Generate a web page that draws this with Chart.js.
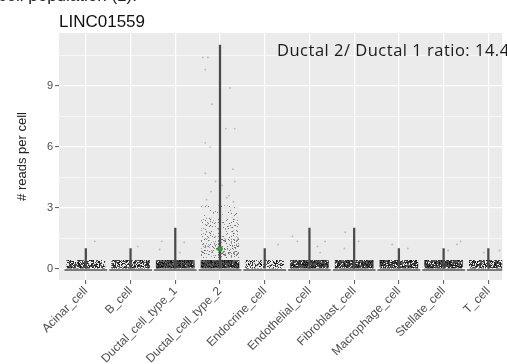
<!DOCTYPE html>
<html>
<head>
<meta charset="utf-8">
<script src="https://cdn.jsdelivr.net/npm/chart.js@4"></script>
<style>
  html, body { margin:0; padding:0; background:#fff; overflow:hidden; }
  #wrap { position:relative; width:507px; height:364px; }
  #chart { position:absolute; left:0; top:0; }
  .txt { position:absolute; white-space:nowrap; line-height:1; }
  #para { left:-2px; top:-14px; font:17px "Liberation Sans", Arial, sans-serif; color:#222; }
  #gene { left:59px; top:12px; font:17px "Liberation Sans", Arial, sans-serif; color:#111; }
  #ratio { left:277px; top:38px; font:16.5px "Open Sans", sans-serif; letter-spacing:0.5px; color:#1a1a1a; }
</style>
</head>
<body>
<div id="wrap">
  <canvas id="chart" width="507" height="364"></canvas>
  <div class="txt" id="para">cell population (1).</div>
  <div class="txt" id="gene">LINC01559</div>
  <div class="txt" id="ratio">Ductal 2/ Ductal 1 ratio: 14.4</div>
</div>
<script>
// data
const categories = ["Acinar_cell", "B_cell", "Ductal_cell_type_1", "Ductal_cell_type_2", "Endocrine_cell",
    "Endothelial_cell", "Fibroblast_cell", "Macrophage_cell", "Stellate_cell", "T_cell"];
const maxReads = [1, 1, 2, 11, 1, 2, 2, 1, 1, 1];
const bulkTop = [0.42, 0.42, 0.42, 0.42, 0.42, 0.42, 0.42, 0.42, 0.42, 0.42];
const ductal2Mean = 0.98;
const ductal2Low = [0.55, 1.5, 2.5];
const ductal2High = [1.45, 2.5, 3.1];
const yTicks = [0, 3, 6, 9];

// stray points (category index, jitter offset, reads)
const strayCat    = [0, 1, 2, 2, 2, 2, 4, 5, 5, 5, 5, 5, 6, 6, 6, 7, 7, 8, 8, 8, 9, 9,
                     3, 3, 3, 3, 3, 3, 3, 3, 3, 3, 3, 3, 3, 3, 3, 3, 3, 3, 3, 3];
const strayOffset = [0.2, 0.16, -0.3, -0.35, 0.2, 0.1, 0.3, -0.38, -0.27, 0.35, 0.18, 0.24, -0.2, 0.1, -0.22, -0.15, 0.2, 0.1, 0.3, 0.38, -0.1, 0.25,
                     -0.38, -0.27, -0.33, 0.22, -0.18, 0.13, 0.33, -0.33, -0.22, 0.29, 0.33, -0.33, -0.1, 0.05, -0.2, 0.2, -0.3, 0.3, 0.0, 0.15];
const strayReads  = [1.35, 1.1, 1.35, 0.95, 1.3, 0.8, 1.2, 1.6, 1.35, 1.35, 1.1, 0.8, 1.8, 1.35, 1.0, 1.2, 1.0, 0.9, 1.2, 1.35, 0.8, 0.9,
                     10.4, 10.4, 9.8, 8.9, 8.1, 6.9, 6.9, 6.2, 6.0, 4.9, 4.3, 4.7, 4.3, 4.1, 3.8, 3.6, 3.4, 3.3, 3.2, 3.5];

// deterministic speckle texture for the dense point clouds
function speckle(density, lo, hi) {
    let c = document.createElement("canvas");
    c.width = 40; c.height = 14;
    let g = c.getContext("2d");
    let s = 7 + Math.round(density * 1000);
    function next() { s = (s * 1103515245 + 12345) % 2147483648; return s / 2147483648; }
    g.fillStyle = "#EBEBEB";
    g.fillRect(0, 0, 40, 14);
    for (let y = 0; y < 14; y++) {
        for (let x = 0; x < 40; x++) {
            if (next() < density) {
                let v = Math.round(lo + (hi - lo) * next());
                g.fillStyle = "rgb(" + v + "," + v + "," + v + ")";
                g.fillRect(x, y, 1, 1);
            }
        }
    }
    let ctx = document.getElementById("chart").getContext("2d");
    return ctx.createPattern(c, "repeat");
}

const bulkDensity = [0.62, 0.66, 0.98, 0.98, 0.35, 0.93, 0.88, 0.8, 0.86, 0.7];
const tierDensity = [0.25, 0.1, 0.04];

let idx = categories.map((c, i) => i);

let baseData = idx.map(i => ({x: i, y: [-0.09, 0]}));
let bulkData = idx.map(i => ({x: i, y: [0, bulkTop[i]]}));
let rangeData = idx.map(i => ({x: i, y: [0, maxReads[i]]}));
let strayData = strayCat.map((c, k) => ({x: c + strayOffset[k], y: strayReads[k]}));

let tierSets = ductal2Low.map((lo, k) => ({
    type: "bar",
    data: [{x: 3, y: [lo, ductal2High[k]]}],
    backgroundColor: speckle(tierDensity[k], 90, 170),
    barThickness: 37,
    grouped: false,
    order: 4
}));

const bgPlugin = {
    id: "panel",
    beforeDraw(chart) {
        let a = chart.chartArea, ctx = chart.ctx;
        ctx.save();
        ctx.fillStyle = "#EBEBEB";
        ctx.fillRect(a.left, a.top, a.right - a.left, a.bottom - a.top);
        ctx.restore();
    }
};

new Chart("chart", {
    type: "bar",
    data: {
        datasets: [
            {
                type: "scatter",
                data: [{x: 3, y: ductal2Mean}],
                pointRadius: 2.4,
                backgroundColor: "#3a9a3a",
                borderColor: "#1f6b1f",
                borderWidth: 0.8,
                order: 0
            },
            {
                type: "bar",
                data: rangeData,
                backgroundColor: "#4a4a4a",
                barThickness: 1.6,
                grouped: false,
                order: 1
            },
            {
                type: "scatter",
                data: strayData,
                pointRadius: 0.9,
                backgroundColor: "rgba(60,60,60,0.3)",
                borderWidth: 0,
                order: 2
            },
            {
                type: "bar",
                data: bulkData,
                backgroundColor: bulkDensity.map(d => speckle(d, 10, 110)),
                barThickness: 38,
                grouped: false,
                order: 3
            },
            ...tierSets,
            {
                type: "bar",
                data: baseData,
                backgroundColor: "#7a7a7a",
                barThickness: 42,
                grouped: false,
                order: 5
            }
        ]
    },
    options: {
        responsive: false,
        animation: false,
        layout: { padding: { top: 33, right: 0, left: 0, bottom: 0 } },
        plugins: { legend: { display: false }, tooltip: { enabled: false } },
        scales: {
            x: {
                type: "linear",
                offset: false,
                min: -0.6,
                max: 9.31,
                afterBuildTicks: s => { s.ticks = idx.map(i => ({value: i})); },
                afterFit: s => { s.height = 84; },
                border: { display: false },
                grid: { offset: false, color: "#ffffff", lineWidth: 1.2, tickColor: "#555", tickLength: 4, tickWidth: 1 },
                ticks: {
                    autoSkip: false,
                    minRotation: 45,
                    maxRotation: 45,
                    padding: 0,
                    color: "#4D4D4D",
                    font: { family: "'Liberation Sans', Arial, sans-serif", size: 12 },
                    callback: v => categories[v]
                }
            },
            y: {
                min: -0.55,
                max: 11.6,
                afterBuildTicks: s => {
                    let t = [];
                    for (let v = 0; v <= 10.5; v += 1.5) t.push({value: v});
                    s.ticks = t;
                },
                afterFit: s => { s.width = 59; },
                border: { display: false },
                grid: {
                    color: "#ffffff",
                    lineWidth: c => (yTicks.includes(c.tick.value) ? 1.2 : 0.6),
                    tickColor: c => (yTicks.includes(c.tick.value) ? "#555" : "rgba(0,0,0,0)"),
                    tickLength: 4,
                    tickWidth: 1
                },
                ticks: {
                    padding: 2,
                    color: "#4D4D4D",
                    font: { family: "'Liberation Sans', Arial, sans-serif", size: 11 },
                    callback: v => (yTicks.includes(v) ? String(v) : "")
                },
                title: {
                    display: true,
                    text: "# reads per cell",
                    color: "#222",
                    font: { family: "'Liberation Sans', Arial, sans-serif", size: 13 },
                    padding: { top: 15, bottom: 0 }
                }
            }
        }
    },
    plugins: [bgPlugin]
});
</script>
</body>
</html>
